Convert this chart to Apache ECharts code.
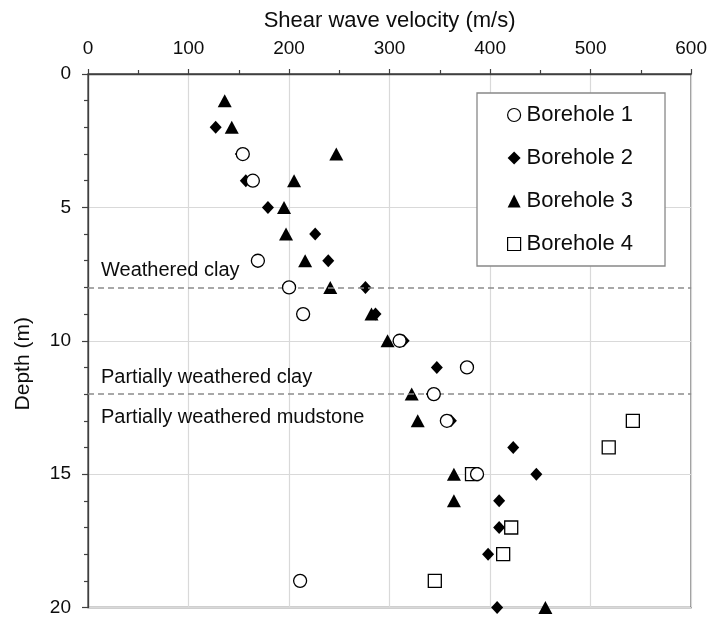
<!DOCTYPE html>
<html>
<head>
<meta charset="utf-8">
<script src="https://cdn.jsdelivr.net/npm/echarts@6/dist/echarts.min.js"></script>
<style>
  html, body { margin: 0; padding: 0; background: #fff; }
  #chart { width: 710px; height: 617px; }
</style>
</head>
<body>
<div id="chart"></div>
<script>
// Shear wave velocity profiles (m/s) against depth (m) for four boreholes
const xTicks = [0, 100, 200, 300, 400, 500, 600];
const yTicks = [0, 5, 10, 15, 20];

const bh1Depth = [3, 4, 7, 8, 9, 10, 11, 12, 13, 15, 19];
const bh1Vs    = [154, 164, 169, 200, 214, 310, 377, 344, 357, 387, 211];

const bh2Depth = [2, 3, 4, 5, 6, 7, 8, 9, 10, 11, 12, 13, 14, 15, 16, 17, 18, 20];
const bh2Vs    = [127, 152, 157, 179, 226, 239, 276, 286, 314, 347, 342, 361, 423, 446, 409, 409, 398, 407];

const bh3Depth = [1, 2, 3, 4, 5, 6, 7, 8, 9, 10, 12, 13, 15, 16, 20];
const bh3Vs    = [136, 143, 247, 205, 195, 197, 216, 241, 282, 298, 322, 328, 364, 364, 455];

const bh4Depth = [13, 14, 15, 17, 18, 19];
const bh4Vs    = [542, 518, 382, 421, 413, 345];

const seriesNames = ['Borehole 1', 'Borehole 2', 'Borehole 3', 'Borehole 4'];

// Layer boundaries; each layer name sits against the boundary it refers to
const boundaryDepths = [8, 12];
const layerNames    = ['Weathered clay', 'Partially weathered clay', 'Partially weathered mudstone'];
const layerBoundary = [8, 12, 12];
const layerSide     = ['above', 'above', 'below'];

const pair = (xs, ys) => xs.map((x, i) => [x, ys[i]]);

const chart = echarts.init(document.getElementById('chart'), null, { renderer: 'canvas' });

const font = 'Liberation Sans, Arial, sans-serif';
const ink = '#000';
const textInk = '#0d0d0d';
const dashStyle = { color: '#8c8c8c', type: [6, 4], width: 1.5 };

const markerSeries = (name, vs, depths, symbol, size, filled, z) => ({
  name: name,
  type: 'scatter',
  data: pair(vs, depths),
  symbol: symbol,
  symbolSize: size,
  z: z,
  itemStyle: filled
    ? { color: ink, borderWidth: 0, opacity: 1 }
    : { color: '#fff', borderColor: ink, borderWidth: 1.3, opacity: 1 },
  emphasis: { disabled: true }
});

// dashed boundary lines, plus label-only entries for the layer names
const boundaryMarks = boundaryDepths.map(d => ({ yAxis: d, label: { show: false } }))
  .concat(layerNames.map((nm, i) => ({
    yAxis: layerBoundary[i],
    lineStyle: { color: 'rgba(0,0,0,0)', width: 0 },
    label: {
      show: true,
      formatter: nm,
      position: layerSide[i] === 'above' ? 'insideStartTop' : 'insideStartBottom',
      distance: layerSide[i] === 'above' ? [13, 7] : [13, 13],
      fontSize: 20, color: textInk, fontFamily: font, opacity: 1
    }
  })));

chart.setOption({
  animation: false,
  backgroundColor: '#fff',
  textStyle: { fontFamily: font },
  grid: {
    left: 88, top: 74, width: 605, height: 534,
    show: true, borderColor: '#404040', borderWidth: 1.3, backgroundColor: 'transparent'
  },
  legend: {
    data: [
      { name: seriesNames[0], icon: 'circle', itemStyle: { color: '#fff', borderColor: ink, borderWidth: 1.2 } },
      { name: seriesNames[1], icon: 'diamond' },
      { name: seriesNames[2], icon: 'triangle' },
      { name: seriesNames[3], icon: 'rect', itemStyle: { color: '#fff', borderColor: ink, borderWidth: 1.2 } }
    ],
    orient: 'vertical',
    left: 477, top: 93,
    itemWidth: 13, itemHeight: 13,
    itemGap: 21,
    padding: [11, 32, 11, 30],
    backgroundColor: '#fff',
    borderColor: '#888',
    borderWidth: 1.3,
    textStyle: { fontSize: 22, color: textInk, fontFamily: font, padding: [0, 0, 0, 1] },
    selectedMode: false
  },
  xAxis: {
    type: 'value',
    position: 'top',
    min: xTicks[0], max: xTicks[xTicks.length - 1], interval: 100,
    name: 'Shear wave velocity (m/s)',
    nameLocation: 'middle',
    nameGap: 42,
    nameTextStyle: { fontSize: 22, color: textInk, fontFamily: font },
    axisLine: { show: true, lineStyle: { color: '#404040', width: 1.3 } },
    axisTick: { show: true, inside: false, length: 5, lineStyle: { color: '#404040', width: 1.2 } },
    minorTick: { show: true, splitNumber: 2, length: 4, lineStyle: { color: '#404040', width: 1.2 } },
    axisLabel: { fontSize: 19, color: textInk, margin: 16, fontFamily: font,
      formatter: v => (xTicks.includes(v) ? String(v) : '') },
    splitLine: { show: true, lineStyle: { color: '#d9d9d9', width: 1.2 } }
  },
  yAxis: {
    type: 'value',
    inverse: true,
    min: yTicks[0], max: yTicks[yTicks.length - 1], interval: 5,
    name: 'Depth (m)',
    nameLocation: 'middle',
    nameGap: 54,
    nameRotate: 90,
    nameTextStyle: { fontSize: 21, color: textInk, fontFamily: font, padding: [0, 46, 0, 0] },
    axisLine: { show: true, lineStyle: { color: '#404040', width: 1.3 } },
    axisTick: { show: true, inside: false, length: 6, lineStyle: { color: '#404040', width: 1.2 } },
    minorTick: { show: true, splitNumber: 5, length: 4, lineStyle: { color: '#404040', width: 1.2 } },
    axisLabel: { fontSize: 19, color: textInk, margin: 17, fontFamily: font,
      formatter: v => (yTicks.includes(v) ? String(v) : '') },
    splitLine: { show: true, lineStyle: { color: '#d9d9d9', width: 1.2 } }
  },
  series: [
    {
      name: 'layers',
      type: 'scatter',
      data: [],
      z: 1,
      silent: true,
      markLine: {
        silent: true,
        symbol: ['none', 'none'],
        lineStyle: dashStyle,
        emphasis: { disabled: true },
        data: boundaryMarks
      }
    },
    markerSeries(seriesNames[1], bh2Vs, bh2Depth, 'diamond', [12, 13], true, 3),
    markerSeries(seriesNames[2], bh3Vs, bh3Depth, 'triangle', [14, 13], true, 4),
    markerSeries(seriesNames[3], bh4Vs, bh4Depth, 'rect', 13, false, 5),
    markerSeries(seriesNames[0], bh1Vs, bh1Depth, 'circle', 13, false, 6)
  ]
});
</script>
</body>
</html>
